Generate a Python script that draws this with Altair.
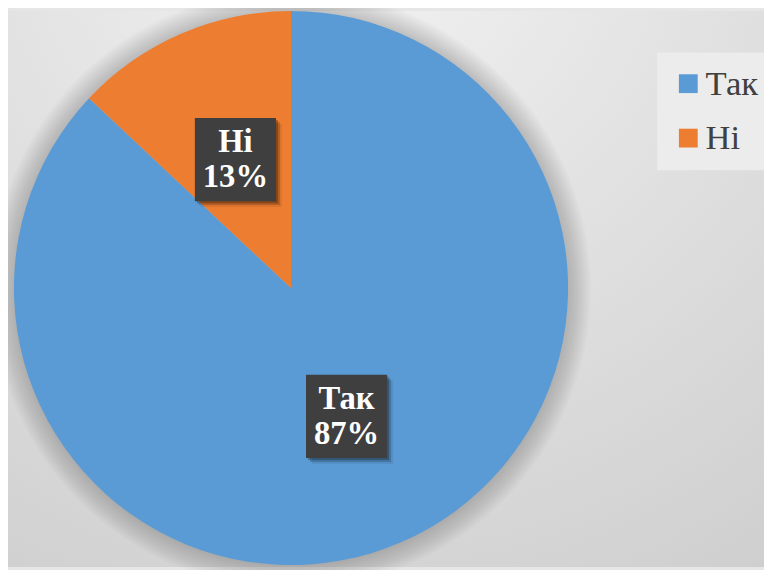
import altair as alt
import pandas as pd
import numpy as np

# ---- data ----
categories = ["Так", "Ні"]
values = [87, 13]
colors = ["#5B9BD5", "#ED7D31"]

# ---- layout ----
W, H = 764, 562
CX, CY, R = 286, 280, 280
BW, BH = 82, 84

df = pd.DataFrame({"cat": categories, "val": values})
df["order"] = range(len(df))
total = df["val"].sum()
mid = (df["val"].cumsum() - df["val"] / 2) / total * 2 * np.pi
df["lx"] = CX + 0.505 * R * np.sin(mid)
df["ly"] = CY - 0.505 * R * np.cos(mid)
df["label"] = df["cat"] + "\n" + df["val"].astype(str) + "%"
df["bx"] = df["lx"] - BW / 2
df["bx2"] = df["lx"] + BW / 2
df["by"] = df["ly"] - BH / 2
df["by2"] = df["ly"] + BH / 2

one = pd.DataFrame({"a": [0]})

bg = alt.Chart(one).mark_rect(
    color=alt.Gradient(
        gradient="radial",
        stops=[alt.GradientStop(offset=0, color="#f3f3f3"),
               alt.GradientStop(offset=1, color="#cecece")],
        x1=0.45, y1=0.0, r1=0, x2=0.45, y2=0.0, r2=1.05,
    )
).encode(x=alt.value(0), x2=alt.value(W), y=alt.value(0), y2=alt.value(H))

shadows = []
for r in range(R + 1, R + 25, 2):
    shadows.append(
        alt.Chart(one).mark_arc(theta=0, theta2=2 * np.pi, color="black", opacity=0.016).encode(
            x=alt.value(CX), y=alt.value(CY + 1), radius=alt.value(r)
        )
    )

SERIF = "Liberation Serif, Times New Roman, serif"

pie = alt.Chart(df).mark_arc(radius=R).encode(
    theta=alt.Theta("val:Q", stack=True),
    order=alt.Order("order:Q"),
    color=alt.Color(
        "cat:N",
        scale=alt.Scale(domain=categories, range=colors),
        sort=categories,
        legend=alt.Legend(
            title=None, orient="none", legendX=656, legendY=42,
            symbolType="square", symbolSize=361, symbolStrokeWidth=0, symbolOpacity=1,
            labelFont=SERIF, labelFontSize=35, labelColor="#404040",
            labelOffset=0, rowPadding=19, padding=14, fillColor="#ececec",
        ),
    ),
    x=alt.value(CX), y=alt.value(CY),
)

box_shadows = []
for off, op in [(2, 0.25), (4, 0.18), (6, 0.08)]:
    box_shadows.append(
        alt.Chart(df).mark_rect(color="black", opacity=op, xOffset=off, yOffset=off, x2Offset=off, y2Offset=off).encode(
            x=alt.X("bx:Q", scale=None, axis=None), x2="bx2:Q",
            y=alt.Y("by:Q", scale=None, axis=None), y2="by2:Q",
        )
    )
box = alt.Chart(df).mark_rect(color="#3f3f3f").encode(
    x=alt.X("bx:Q", scale=None, axis=None), x2="bx2:Q",
    y=alt.Y("by:Q", scale=None, axis=None), y2="by2:Q",
)
text = alt.Chart(df).mark_text(
    font=SERIF, fontWeight="bold", fontSize=33, color="white",
    lineBreak="\n", lineHeight=36, baseline="middle", align="center", dy=-18,
).encode(
    x=alt.X("lx:Q", scale=None, axis=None),
    y=alt.Y("ly:Q", scale=None, axis=None),
    text="label:N",
)

chart = alt.layer(bg, *shadows, pie, *box_shadows, box, text).properties(
    width=W, height=H, padding=0, autosize=alt.AutoSizeParams(type="none"),
    background="#e6e6e6",
).configure_view(stroke=None)

chart.save("out.html", embed_options={"renderer": "svg", "actions": False})
